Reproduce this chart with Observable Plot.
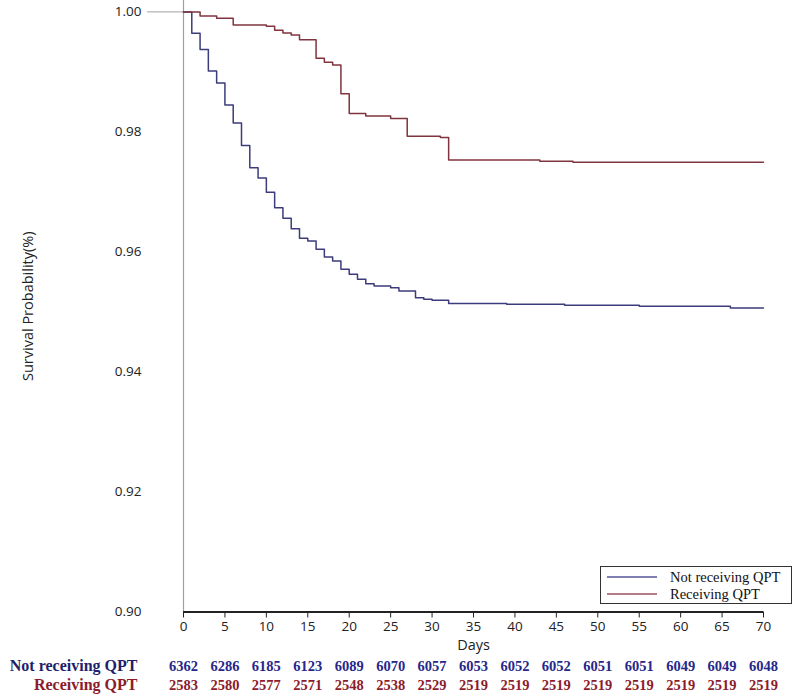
<!DOCTYPE html>
<html><head><meta charset="utf-8">
<script src="https://cdn.jsdelivr.net/npm/d3@7"></script>
<script src="https://cdn.jsdelivr.net/npm/@observablehq/plot@0.6"></script>
<style>
body{margin:0;background:#fff;}
#wrap{position:relative;width:796px;height:699px;}
#legend{position:absolute;left:600px;top:566px;width:190px;height:36px;border:1px solid #333;background:#fff;font-family:"Liberation Serif","Times New Roman",serif;font-size:14.5px;color:#111;}
#legend .row{position:absolute;left:6px;height:18px;display:flex;align-items:center;}
#legend svg{margin-right:13px;}
</style></head>
<body><div id="wrap"></div>
<script>
const groups = ["Not receiving QPT", "Receiving QPT"];
const lineColors = ["#3c3c7c", "#80343f"];
const tableColors = ["#27278a", "#8c1c2c"];
const legendColors = ["#55559a", "#9a5060"];

const notDays = [0, 1, 2, 3, 4, 5, 6, 7, 8, 9, 10, 11, 12, 13, 14, 15, 16, 17, 18, 19, 20, 21, 22, 23, 25, 26, 28, 29, 30, 32, 39, 46, 55, 66, 70];
const notSurv = [1, 0.99645, 0.99372, 0.99017, 0.98817, 0.9845, 0.9815, 0.97772, 0.97405, 0.97233, 0.96993, 0.96738, 0.96562, 0.96388, 0.96228, 0.96183, 0.96045, 0.95917, 0.9585, 0.95712, 0.95628, 0.95545, 0.95472, 0.95433, 0.95405, 0.9535, 0.95238, 0.95212, 0.95195, 0.9514, 0.95128, 0.95112, 0.95095, 0.95067, 0.95067];

const recDays = [0, 2, 4, 6, 10, 11, 12, 13, 14, 16, 17, 18, 19, 20, 22, 25, 27, 31, 32, 43, 47, 70];
const recSurv = [1, 0.9993, 0.99895, 0.9978, 0.99762, 0.99695, 0.9965, 0.99617, 0.99538, 0.99228, 0.99162, 0.99117, 0.98638, 0.98305, 0.98267, 0.98222, 0.97928, 0.97905, 0.97533, 0.97511, 0.97495, 0.97495];

const riskDays = [0, 5, 10, 15, 20, 25, 30, 35, 40, 45, 50, 55, 60, 65, 70];
const notRisk = [6362, 6286, 6185, 6123, 6089, 6070, 6057, 6053, 6052, 6052, 6051, 6051, 6049, 6049, 6048];
const recRisk = [2583, 2580, 2577, 2571, 2548, 2538, 2529, 2519, 2519, 2519, 2519, 2519, 2519, 2519, 2519];

const yTicks = [0.90, 0.92, 0.94, 0.96, 0.98, 1.00];
const xTicks = riskDays;

const curves = [
  ...notDays.map((d, i) => ({group: groups[0], day: d, surv: notSurv[i]})),
  ...recDays.map((d, i) => ({group: groups[1], day: d, surv: recSurv[i]}))
];
const notTable = riskDays.map((d, i) => ({day: d, n: String(notRisk[i])}));
const recTable = riskDays.map((d, i) => ({day: d, n: String(recRisk[i])}));

const serif = "'Liberation Serif','Times New Roman',serif";

const plot = Plot.plot({
  width: 796, height: 699,
  marginLeft: 183, marginRight: 33, marginTop: 0, marginBottom: 87.5,
  x: {domain: [0, 70]},
  y: {domain: [0.9, 1.0019]},
  color: {domain: groups, range: lineColors},
  style: {fontFamily: "'Open Sans', sans-serif", fontSize: "13px", color: "#222", background: "#fff", overflow: "visible"},
  marks: [
    Plot.ruleX([0], {stroke: "#a0a0a0", strokeWidth: 1.2}),
    Plot.axisY({ticks: [1], tickSize: 36, tickFormat: () => "", stroke: "#a0a0a0", label: null}),
    Plot.axisY({ticks: yTicks, tickSize: 0, tickPadding: 42, tickFormat: ".2f", fontSize: 13.5, label: null}),
    Plot.ruleY([0.9], {stroke: "#222", strokeWidth: 2}),
    Plot.axisX({ticks: xTicks, tickSize: 6, tickPadding: 3, stroke: "#222", fontSize: 13.5, label: null}),
    Plot.line(curves, {x: "day", y: "surv", z: "group", stroke: "group", curve: "step-after", strokeWidth: 1.5}),
    Plot.text(["Days"], {frameAnchor: "bottom", dy: 38, text: d => d, fontSize: 14.5}),
    Plot.text(["Survival Probability(%)"], {frameAnchor: "left", dx: -155, rotate: -90, textAnchor: "middle", text: d => d, fontSize: 14.5}),
    Plot.text(notTable, {x: "day", frameAnchor: "bottom", dy: 58.5, text: "n", fill: tableColors[0], fontFamily: serif, fontWeight: "bold", fontSize: 14.5}),
    Plot.text(recTable, {x: "day", frameAnchor: "bottom", dy: 77.5, text: "n", fill: tableColors[1], fontFamily: serif, fontWeight: "bold", fontSize: 14.5}),
    Plot.text([groups[0]], {frameAnchor: "bottom-left", dx: -46, dy: 58.5, textAnchor: "end", text: d => d, fill: "#1f1f6b", fontFamily: serif, fontWeight: "bold", fontSize: 16}),
    Plot.text([groups[1]], {frameAnchor: "bottom-left", dx: -46, dy: 77.5, textAnchor: "end", text: d => d, fill: "#8c1c2c", fontFamily: serif, fontWeight: "bold", fontSize: 16})
  ]
});

const wrap = document.getElementById("wrap");
wrap.appendChild(plot);

const legend = document.createElement("div");
legend.id = "legend";
groups.forEach((g, i) => {
  const row = document.createElement("div");
  row.className = "row";
  row.style.top = (i * 17 + 1) + "px";
  const ns = "http://www.w3.org/2000/svg";
  const sv = document.createElementNS(ns, "svg");
  sv.setAttribute("width", "50");
  sv.setAttribute("height", "4");
  const ln = document.createElementNS(ns, "line");
  ln.setAttribute("x1", "0"); ln.setAttribute("x2", "50");
  ln.setAttribute("y1", "2"); ln.setAttribute("y2", "2");
  ln.setAttribute("stroke", legendColors[i]);
  ln.setAttribute("stroke-width", "1.5");
  sv.appendChild(ln);
  const tx = document.createElement("span");
  tx.textContent = g;
  row.appendChild(sv);
  row.appendChild(tx);
  legend.appendChild(row);
});
wrap.appendChild(legend);
</script>
</body></html>
